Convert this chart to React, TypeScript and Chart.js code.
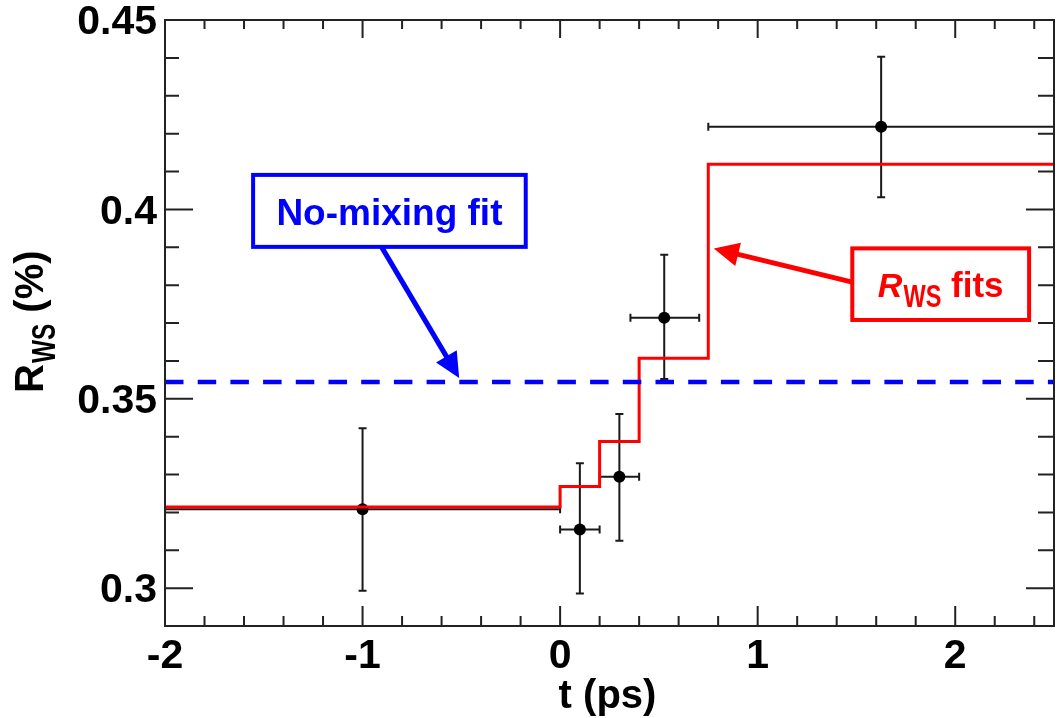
import { useEffect, useRef } from "react";
import { Chart, registerables } from "chart.js";

Chart.register(...registerables);

// Measured wrong-sign ratio per decay-time bin (t in ps, R_WS in %)
const tValues = [-1, 0.1, 0.3, 0.527, 1.625];
const tLow = [-2, 0, 0.2, 0.356, 0.75];
const tHigh = [0, 0.2, 0.4, 0.704, 2.5];
const rwsValues = [0.3208, 0.3155, 0.3294, 0.3714, 0.4218];
const rwsLow = [0.2993, 0.2986, 0.3125, 0.3552, 0.4032];
const rwsHigh = [0.3422, 0.333, 0.346, 0.388, 0.4403];

// Piecewise-constant R_WS fit: value i holds on [fitEdges[i], fitEdges[i+1]]
const fitEdges = [-2, 0, 0.2, 0.4, 0.75, 2.5];
const fitValues = [0.3214, 0.3268, 0.3387, 0.3607, 0.4119];

// Constant (no-mixing) fit level
const noMixLevel = 0.3544;

// Axis ranges and labelled ticks
const xRange = [-2, 2.5];
const yRange = [0.29, 0.45];
const xTickValues = [-2, -1, 0, 1, 2];
const xTickLabels = ["-2", "-1", "0", "1", "2"];
const yTickValues = [0.3, 0.35, 0.4, 0.45];
const yTickLabels = ["0.3", "0.35", "0.4", "0.45"];

// Callout boxes and arrows, in data coordinates
const noMixBox = { x0: -1.554, x1: -0.174, yTop: 0.4091, yBottom: 0.3901 };
const noMixArrow = { from: [-0.904, 0.3901], to: [-0.511, 0.3555] };
const fitBox = { x0: 1.479, x1: 2.374, yTop: 0.3897, yBottom: 0.3708 };
const fitArrow = { from: [1.479, 0.3808], to: [0.778, 0.3897] };

const FAMILY = '"Liberation Sans", Arial, Helvetica, sans-serif';
const BLUE = "#0000ff";
const RED = "#ff0000";
const FRAME = "#222222";

function drawArrow(
  ctx: CanvasRenderingContext2D,
  x0: number,
  y0: number,
  x1: number,
  y1: number,
  color: string,
  width: number,
  headLen: number,
  headHalf: number
) {
  const dx = x1 - x0;
  const dy = y1 - y0;
  const len = Math.hypot(dx, dy);
  const ux = dx / len;
  const uy = dy / len;
  const bx = x1 - ux * headLen;
  const by = y1 - uy * headLen;
  ctx.save();
  ctx.strokeStyle = color;
  ctx.fillStyle = color;
  ctx.lineWidth = width;
  ctx.beginPath();
  ctx.moveTo(x0, y0);
  ctx.lineTo(bx + ux * 2, by + uy * 2);
  ctx.stroke();
  ctx.beginPath();
  ctx.moveTo(x1, y1);
  ctx.lineTo(bx - uy * headHalf, by + ux * headHalf);
  ctx.lineTo(bx + uy * headHalf, by - ux * headHalf);
  ctx.closePath();
  ctx.fill();
  ctx.restore();
}

// Draws condensed subscript text, returns its advance width
function drawCondensed(
  ctx: CanvasRenderingContext2D,
  text: string,
  x: number,
  y: number,
  font: string,
  scaleX: number
) {
  ctx.save();
  ctx.font = font;
  const w = ctx.measureText(text).width * scaleX;
  ctx.translate(x, y);
  ctx.scale(scaleX, 1);
  ctx.fillText(text, 0, 0);
  ctx.restore();
  return w;
}

const errorBarPlugin = {
  id: "errorBars",
  beforeDatasetsDraw(chart: any) {
    const { ctx, chartArea, scales } = chart;
    const xs = scales.x;
    const ys = scales.y;
    ctx.save();
    ctx.beginPath();
    ctx.rect(chartArea.left, chartArea.top, chartArea.right - chartArea.left, chartArea.bottom - chartArea.top);
    ctx.clip();
    ctx.strokeStyle = "#1a1a1a";
    ctx.lineWidth = 2;
    const cap = 4;
    for (let i = 0; i < tValues.length; i++) {
      const px = xs.getPixelForValue(tValues[i]);
      const py = ys.getPixelForValue(rwsValues[i]);
      const xl = xs.getPixelForValue(tLow[i]);
      const xh = xs.getPixelForValue(tHigh[i]);
      const yl = ys.getPixelForValue(rwsLow[i]);
      const yh = ys.getPixelForValue(rwsHigh[i]);
      ctx.beginPath();
      ctx.moveTo(xl, py);
      ctx.lineTo(xh, py);
      ctx.moveTo(px, yl);
      ctx.lineTo(px, yh);
      // end caps
      ctx.moveTo(xl, py - cap);
      ctx.lineTo(xl, py + cap);
      ctx.moveTo(xh, py - cap);
      ctx.lineTo(xh, py + cap);
      ctx.moveTo(px - cap, yl);
      ctx.lineTo(px + cap, yl);
      ctx.moveTo(px - cap, yh);
      ctx.lineTo(px + cap, yh);
      ctx.stroke();
    }
    ctx.restore();
  },
};

const framePlugin = {
  id: "frameTicks",
  afterDatasetsDraw(chart: any) {
    const { ctx, chartArea, scales } = chart;
    const { left, right, top, bottom } = chartArea;
    const xs = scales.x;
    const ys = scales.y;
    ctx.save();
    ctx.strokeStyle = FRAME;
    ctx.lineWidth = 2;
    ctx.beginPath();
    // x ticks: major every 1, minor every 0.2
    for (let k = 0; k <= 22; k++) {
      const v = xRange[0] + k * 0.2;
      if (v > xRange[1] + 1e-9) break;
      const px = xs.getPixelForValue(v);
      if (px <= left + 1 || px >= right - 1) continue;
      const major = Math.abs(v - Math.round(v)) < 1e-6;
      const lb = major ? 20 : 10;
      const lt = major ? 18 : 9;
      ctx.moveTo(px, bottom);
      ctx.lineTo(px, bottom - lb);
      ctx.moveTo(px, top);
      ctx.lineTo(px, top + lt);
    }
    // y ticks: major every 0.05, minor every 0.01
    for (let k = 0; k <= 16; k++) {
      const v = yRange[0] + k * 0.01;
      const py = ys.getPixelForValue(v);
      if (py >= bottom - 1 || py < top - 1) continue;
      const major = Math.abs(v / 0.05 - Math.round(v / 0.05)) < 1e-6;
      const l = major ? 28 : 14;
      const r = major ? 28 : 16;
      ctx.moveTo(left, py);
      ctx.lineTo(left + l, py);
      ctx.moveTo(right, py);
      ctx.lineTo(right - r, py);
    }
    ctx.stroke();
    ctx.strokeRect(left, top, right - left, bottom - top);
    ctx.restore();
  },
  afterDraw(chart: any) {
    const { ctx, chartArea, scales } = chart;
    const xs = scales.x;
    const ys = scales.y;
    const X = (v: number) => xs.getPixelForValue(v);
    const Y = (v: number) => ys.getPixelForValue(v);

    ctx.save();
    ctx.textBaseline = "alphabetic";

    // x-axis title
    ctx.fillStyle = "#000";
    ctx.font = `bold 40px ${FAMILY}`;
    ctx.textAlign = "center";
    ctx.fillText("t (ps)", (chartArea.left + chartArea.right) / 2 - 2, 708);

    // y-axis title, rotated, with subscript
    ctx.save();
    ctx.translate(43, 393);
    ctx.rotate(-Math.PI / 2);
    ctx.textAlign = "left";
    ctx.font = `bold 40px ${FAMILY}`;
    ctx.fillText("R", 0, 0);
    let off = ctx.measureText("R").width + 1;
    off += drawCondensed(ctx, "WS", off, 12, `bold 33px ${FAMILY}`, 0.74);
    ctx.font = `bold 40px ${FAMILY}`;
    ctx.fillText(" (%)", off, 0);
    ctx.restore();

    // No-mixing callout
    ctx.save();
    ctx.strokeStyle = BLUE;
    ctx.lineWidth = 4;
    const bx0 = X(noMixBox.x0);
    const bx1 = X(noMixBox.x1);
    const by0 = Y(noMixBox.yTop);
    const by1 = Y(noMixBox.yBottom);
    ctx.fillStyle = "#fff";
    ctx.fillRect(bx0, by0, bx1 - bx0, by1 - by0);
    ctx.strokeRect(bx0, by0, bx1 - bx0, by1 - by0);
    ctx.fillStyle = BLUE;
    ctx.font = `bold 37px ${FAMILY}`;
    ctx.textAlign = "center";
    ctx.fillText("No-mixing fit", (bx0 + bx1) / 2, (by0 + by1) / 2 + 14);
    ctx.restore();
    drawArrow(
      ctx,
      X(noMixArrow.from[0]),
      Y(noMixArrow.from[1]),
      X(noMixArrow.to[0]),
      Y(noMixArrow.to[1]),
      BLUE,
      5,
      25,
      12
    );

    // R_WS fits callout
    ctx.save();
    ctx.strokeStyle = RED;
    ctx.lineWidth = 4;
    const rx0 = X(fitBox.x0);
    const rx1 = X(fitBox.x1);
    const ry0 = Y(fitBox.yTop);
    const ry1 = Y(fitBox.yBottom);
    ctx.fillStyle = "#fff";
    ctx.fillRect(rx0, ry0, rx1 - rx0, ry1 - ry0);
    ctx.strokeRect(rx0, ry0, rx1 - rx0, ry1 - ry0);
    ctx.fillStyle = RED;
    ctx.textAlign = "left";
    const mainFont = `bold 35px ${FAMILY}`;
    const italicFont = `italic bold 34px ${FAMILY}`;
    const subFont = `bold 31px ${FAMILY}`;
    ctx.font = italicFont;
    const wR = ctx.measureText("R").width;
    ctx.font = subFont;
    const wSub = ctx.measureText("WS").width * 0.76;
    ctx.font = mainFont;
    const wFits = ctx.measureText(" fits").width;
    const total = wR + 1 + wSub + wFits;
    let tx = (rx0 + rx1) / 2 - total / 2;
    const base = (ry0 + ry1) / 2 + 13;
    ctx.font = italicFont;
    ctx.fillText("R", tx, base);
    tx += wR + 1;
    tx += drawCondensed(ctx, "WS", tx, base + 10, subFont, 0.76);
    ctx.font = mainFont;
    ctx.fillText(" fits", tx, base);
    ctx.restore();
    drawArrow(
      ctx,
      X(fitArrow.from[0]),
      Y(fitArrow.from[1]),
      X(fitArrow.to[0]),
      Y(fitArrow.to[1]),
      RED,
      5,
      25,
      12
    );

    ctx.restore();
  },
};

export default function App() {
  const canvasRef = useRef<HTMLCanvasElement | null>(null);

  useEffect(() => {
    const canvas = canvasRef.current;
    if (!canvas) return;

    const points = tValues.map((t, i) => ({ x: t, y: rwsValues[i] }));
    const stepPoints = fitEdges.map((e, i) => ({
      x: e,
      y: fitValues[Math.min(i, fitValues.length - 1)],
    }));
    const noMixPoints = [
      { x: xRange[0], y: noMixLevel },
      { x: xRange[1], y: noMixLevel },
    ];

    const tickFont = { family: FAMILY, size: 41, weight: "bold" as const };

    const chart = new Chart(canvas, {
      type: "scatter",
      data: {
        datasets: [
          {
            type: "line",
            label: "No-mixing fit",
            data: noMixPoints,
            borderColor: BLUE,
            borderWidth: 4.5,
            borderDash: [18.5, 14.2],
            pointRadius: 0,
            fill: false,
            tension: 0,
            clip: 0,
          } as any,
          {
            type: "line",
            label: "R_WS fits",
            data: stepPoints,
            borderColor: RED,
            borderWidth: 3,
            stepped: "before",
            pointRadius: 0,
            fill: false,
            tension: 0,
            clip: 0,
          } as any,
          {
            type: "scatter",
            label: "Data",
            data: points,
            backgroundColor: "#000",
            borderWidth: 0,
            pointRadius: 6,
            pointHoverRadius: 6,
          },
        ],
      },
      options: {
        responsive: false,
        animation: false,
        events: [],
        layout: { padding: { top: 20, right: 2, left: 0, bottom: 0 } },
        plugins: {
          legend: { display: false },
          tooltip: { enabled: false },
          title: { display: false },
        },
        scales: {
          x: {
            type: "linear",
            min: xRange[0],
            max: xRange[1],
            grid: { display: false, drawTicks: false },
            border: { display: false },
            afterBuildTicks: (axis: any) => {
              axis.ticks = xTickValues.map((v) => ({ value: v }));
            },
            afterFit: (axis: any) => {
              axis.height = 92;
              axis.paddingLeft = 0;
              axis.paddingRight = 0;
            },
            ticks: {
              autoSkip: false,
              maxRotation: 0,
              minRotation: 0,
              padding: 6,
              color: "#000",
              font: tickFont,
              callback: (_v: any, index: number) => xTickLabels[index],
            },
          },
          y: {
            type: "linear",
            min: yRange[0],
            max: yRange[1],
            grid: { display: false, drawTicks: false },
            border: { display: false },
            afterBuildTicks: (axis: any) => {
              axis.ticks = yTickValues.map((v) => ({ value: v }));
            },
            afterFit: (axis: any) => {
              axis.width = 165;
              axis.paddingTop = 0;
              axis.paddingBottom = 0;
            },
            ticks: {
              autoSkip: false,
              padding: 8,
              color: "#000",
              font: tickFont,
              labelOffset: 3,
              callback: (_v: any, index: number) => yTickLabels[index],
            },
          },
        },
      },
      plugins: [errorBarPlugin, framePlugin],
    });

    return () => {
      chart.destroy();
    };
  }, []);

  return (
    <div
      style={{
        position: "fixed",
        left: 0,
        top: 0,
        width: 1060,
        height: 718,
        background: "#ffffff",
      }}
    >
      <canvas ref={canvasRef} width={1060} height={718} style={{ display: "block" }} />
    </div>
  );
}
